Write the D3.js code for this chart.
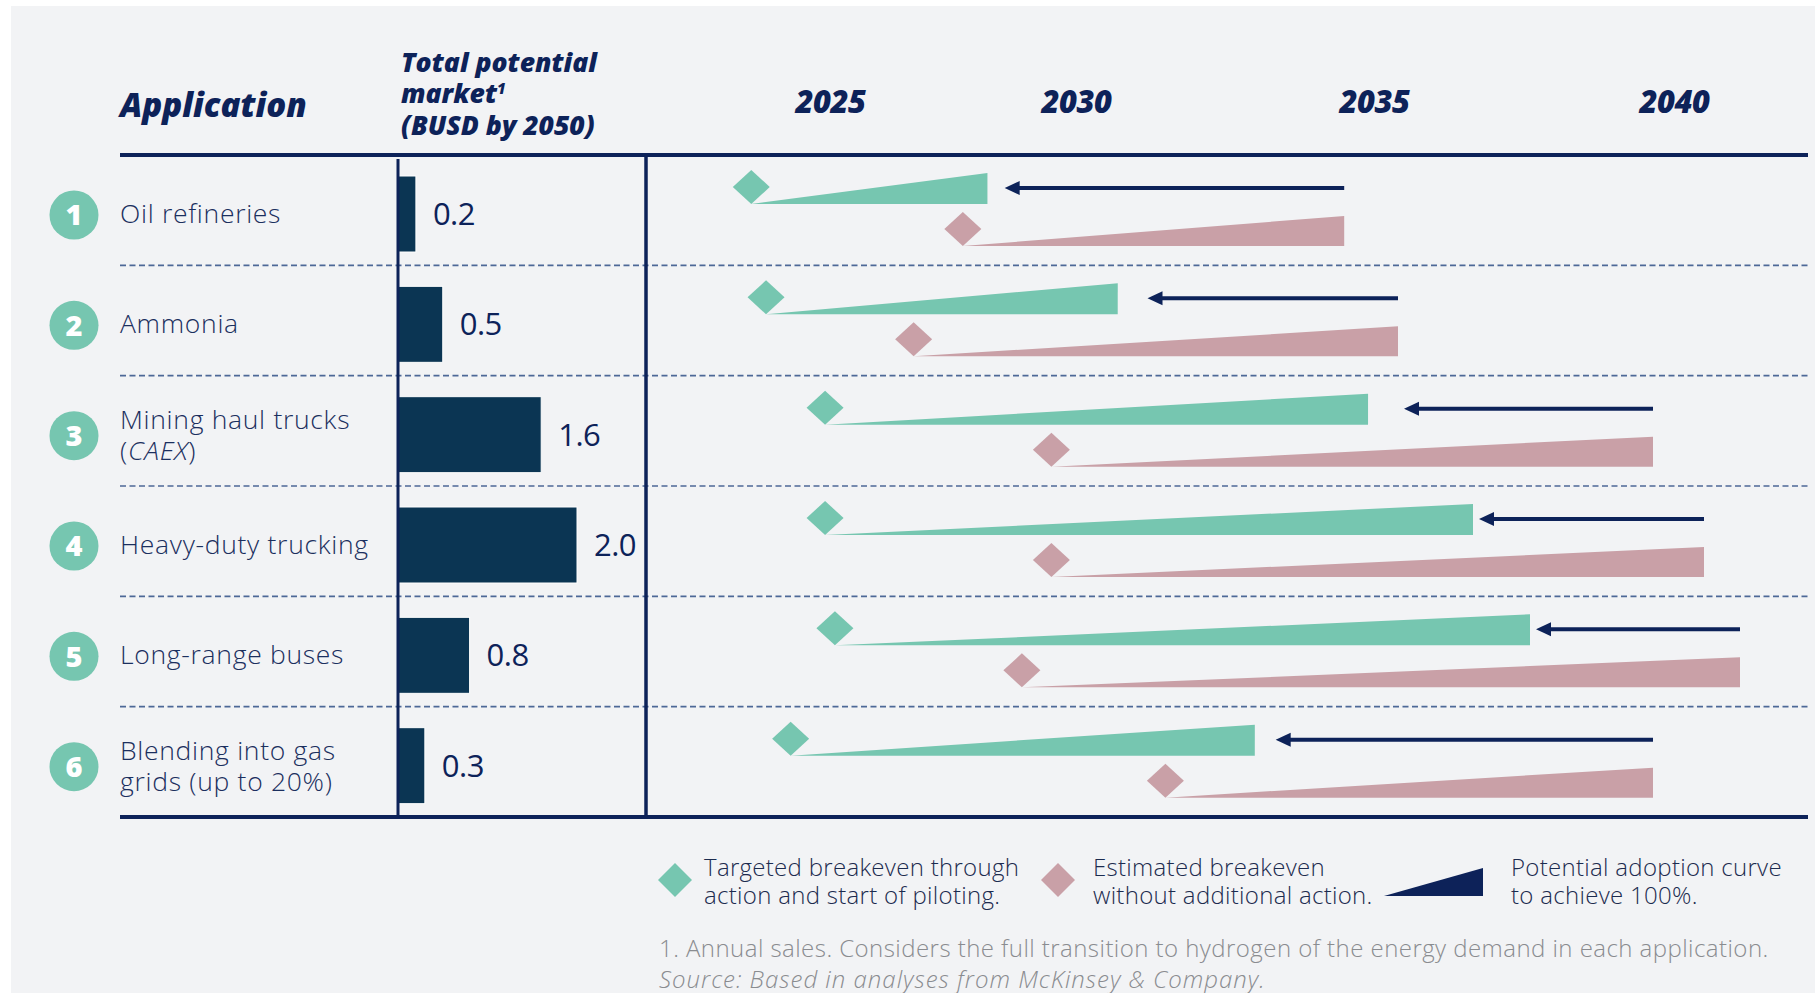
<!DOCTYPE html>
<html>
<head>
<meta charset="utf-8">
<script src="https://cdn.jsdelivr.net/npm/d3@7"></script>
<style>
  body { margin: 0; background: #ffffff; }
  svg text { font-family: "Open Sans", sans-serif; }
</style>
</head>
<body>
<div id="chart"></div>
<script>
// one entry per application row, top to bottom
const applications = [
  ["Oil refineries"],
  ["Ammonia"],
  ["Mining haul trucks", "(CAEX)"],
  ["Heavy-duty trucking"],
  ["Long-range buses"],
  ["Blending into gas", "grids (up to 20%)"]
];
const italicTerms = ["CAEX"];

// total potential market, BUSD by 2050
const marketValues = [0.2, 0.5, 1.6, 2.0, 0.8, 0.3];

const yearTicks = [2025, 2030, 2035, 2040];

// years
const targetedBreakeven = [2023.4, 2023.7, 2024.9, 2024.9, 2025.1, 2024.2];
const targetedFull = [2028.2, 2030.7, 2034.9, 2036.65, 2037.6, 2033.0];
const estimatedBreakeven = [2027.7, 2026.7, 2029.5, 2029.5, 2028.9, 2031.5];
const estimatedFull = [2034.5, 2035.4, 2039.65, 2040.5, 2041.1, 2039.65];
const arrowTip = [2028.55, 2031.2, 2035.5, 2036.75, 2037.7, 2033.35];

const legendLabels = [
  ["Targeted breakeven through", "action and start of piloting."],
  ["Estimated breakeven", "without additional action."],
  ["Potential adoption curve", "to achieve 100%."]
];
const footnote = "1. Annual sales. Considers the full transition to hydrogen of the energy demand in each application.";
const source = "Source: Based in analyses from McKinsey & Company.";

const width = 1815, height = 993;
const navy = "#0d2259";
const green = "#76c6b0";
const pink = "#c9a0a7";
const barColor = "#0b3553";
const labelColor = "#1b2f5e";
const headFont = "800";

const svg = d3.select("#chart")
  .append("svg")
  .attr("width", width)
  .attr("height", height);

// panel
svg.append("rect")
  .attr("x", 11).attr("y", 6)
  .attr("width", width - 11).attr("height", height - 6)
  .attr("fill", "#f2f3f5");

const rowY = d3.scaleBand()
  .domain(d3.range(applications.length))
  .range([155, 817]);

const barX = d3.scaleLinear()
  .domain([0, 2])
  .range([398, 577]);

const timeX = d3.scaleLinear()
  .domain(yearTicks)
  .range([830, 1076, 1374, 1674]);

drawHeaders();
drawGrid();
drawRows();
drawBars();
drawTimeline();
drawLegend();

function drawHeaders() {
  svg.append("text")
    .attr("x", 120).attr("y", 117)
    .attr("fill", navy)
    .style("font-size", "33px")
    .style("font-weight", headFont)
    .style("font-style", "italic")
    .text("Application");

  const market = svg.append("text")
    .attr("x", 401)
    .attr("fill", navy)
    .style("font-size", "26.5px")
    .style("font-weight", headFont)
    .style("font-style", "italic");
  market.append("tspan").attr("x", 401).attr("y", 72).text("Total potential");
  market.append("tspan").attr("x", 401).attr("y", 103).text("market");
  market.append("tspan").attr("dy", -9).style("font-size", "15px").text("1");
  market.append("tspan").attr("x", 401).attr("y", 135).text("(BUSD by 2050)");

  const axis = d3.axisTop(timeX)
    .tickValues(yearTicks)
    .tickFormat(d3.format("d"))
    .tickSize(0)
    .tickPadding(0);

  const g = svg.append("g")
    .attr("transform", "translate(0,113)")
    .call(axis);
  g.select(".domain").remove();
  g.selectAll("text")
    .attr("fill", navy)
    .style("font-family", "'Open Sans', sans-serif")
    .style("font-size", "31px")
    .style("font-weight", headFont)
    .style("font-style", "italic")
    .style("letter-spacing", "-0.5px");
}

function drawGrid() {
  // dashed row separators
  svg.selectAll(".sep")
    .data(d3.range(1, applications.length))
    .enter().append("line")
    .attr("x1", 120).attr("x2", 1808)
    .attr("y1", d => rowY(d)).attr("y2", d => rowY(d))
    .attr("stroke", "#4d6897")
    .attr("stroke-width", 1.6)
    .attr("stroke-dasharray", "6,3.5");

  svg.append("line")
    .attr("x1", 120).attr("x2", 1808)
    .attr("y1", 155).attr("y2", 155)
    .attr("stroke", navy).attr("stroke-width", 4);

  svg.append("line")
    .attr("x1", 120).attr("x2", 1808)
    .attr("y1", 817).attr("y2", 817)
    .attr("stroke", navy).attr("stroke-width", 4);

  svg.append("line")
    .attr("x1", 646).attr("x2", 646)
    .attr("y1", 155).attr("y2", 817)
    .attr("stroke", navy).attr("stroke-width", 3.5);
}

function drawRows() {
  const rows = svg.selectAll(".row")
    .data(applications)
    .enter().append("g")
    .attr("transform", (d, i) => "translate(0," + rowY(i) + ")");

  rows.append("circle")
    .attr("cx", 74).attr("cy", 60).attr("r", 24.5)
    .attr("fill", green);

  rows.append("text")
    .attr("x", 74).attr("y", 60).attr("dy", "0.36em")
    .attr("text-anchor", "middle")
    .attr("fill", "#ffffff")
    .style("font-size", "29px")
    .style("font-weight", "800")
    .text((d, i) => i + 1);

  rows.each(function(lines) {
    const t = d3.select(this).append("text")
      .attr("fill", labelColor)
      .style("font-size", "26.5px")
      .style("font-weight", "300")
      .style("letter-spacing", "0.7px");
    const first = lines.length === 1 ? 68 : 53;
    lines.forEach((line, j) => {
      const span = t.append("tspan").attr("x", 120).attr("y", first + j * 31);
      const term = italicTerms.find(w => line.includes(w));
      if (!term) { span.text(line); return; }
      const parts = line.split(term);
      span.text(parts[0]);
      t.append("tspan").style("font-style", "italic").text(term);
      t.append("tspan").text(parts[1]);
    });
  });
}

function drawBars() {
  svg.selectAll(".bar")
    .data(marketValues)
    .enter().append("rect")
    .attr("x", barX(0))
    .attr("y", (d, i) => rowY(i) + 21)
    .attr("width", d => barX(d) - barX(0))
    .attr("height", 76)
    .attr("fill", barColor)
    .attr("stroke", "#ffffff")
    .attr("stroke-width", 1);

  svg.selectAll(".value")
    .data(marketValues)
    .enter().append("text")
    .attr("x", d => barX(d) + 17)
    .attr("y", (d, i) => rowY(i) + 59)
    .attr("dy", "0.36em")
    .attr("fill", navy)
    .style("font-size", "31px")
    .style("font-weight", "400")
    .style("letter-spacing", "-0.5px")
    .text(d => d.toFixed(1));

  // bar axis
  svg.append("line")
    .attr("x1", 398).attr("x2", 398)
    .attr("y1", 159).attr("y2", 817)
    .attr("stroke", navy).attr("stroke-width", 3);
}

function diamond(cx, cy, rx, ry) {
  return [[cx, cy - ry], [cx + rx, cy], [cx, cy + ry], [cx - rx, cy]].join(" ");
}

function drawTimeline() {
  const rows = d3.range(applications.length);

  // targeted adoption wedge
  svg.selectAll(".gw")
    .data(rows)
    .enter().append("polygon")
    .attr("points", i => {
      const top = rowY(i);
      return [[timeX(targetedBreakeven[i]), top + 49], [timeX(targetedFull[i]), top + 49],
              [timeX(targetedFull[i]), top + 18]].join(" ");
    })
    .attr("fill", green);

  svg.selectAll(".gd")
    .data(rows)
    .enter().append("polygon")
    .attr("points", i => diamond(timeX(targetedBreakeven[i]), rowY(i) + 32, 18.5, 17))
    .attr("fill", green);

  // estimated adoption wedge
  svg.selectAll(".pw")
    .data(rows)
    .enter().append("polygon")
    .attr("points", i => {
      const top = rowY(i);
      return [[timeX(estimatedBreakeven[i]), top + 91], [timeX(estimatedFull[i]), top + 91],
              [timeX(estimatedFull[i]), top + 61]].join(" ");
    })
    .attr("fill", pink);

  svg.selectAll(".pd")
    .data(rows)
    .enter().append("polygon")
    .attr("points", i => diamond(timeX(estimatedBreakeven[i]), rowY(i) + 74, 18.5, 17))
    .attr("fill", pink);

  // arrows from estimated to targeted
  svg.selectAll(".arrow")
    .data(rows)
    .enter().append("line")
    .attr("x1", i => timeX(estimatedFull[i]))
    .attr("x2", i => timeX(arrowTip[i]) + 12)
    .attr("y1", i => rowY(i) + 33)
    .attr("y2", i => rowY(i) + 33)
    .attr("stroke", navy)
    .attr("stroke-width", 4);

  svg.selectAll(".head")
    .data(rows)
    .enter().append("polygon")
    .attr("points", i => {
      const x = timeX(arrowTip[i]), y = rowY(i) + 33;
      return [[x, y], [x + 15, y - 7], [x + 15, y + 7]].join(" ");
    })
    .attr("fill", navy);
}

function drawLegend() {
  const baseY = 876;
  const items = [
    { x: 704, mark: g => g.append("polygon").attr("points", diamond(675, 880, 17, 17)).attr("fill", green) },
    { x: 1093, mark: g => g.append("polygon").attr("points", diamond(1058, 880, 17, 17)).attr("fill", pink) },
    { x: 1511, mark: g => g.append("polygon").attr("points", "1384,896 1483,896 1483,868").attr("fill", navy) }
  ];

  const legend = svg.append("g");
  legendLabels.forEach((lines, i) => {
    items[i].mark(legend);
    const t = legend.append("text")
      .attr("fill", "#1c2b4f")
      .style("font-size", "24px")
      .style("font-weight", "300")
      .style("letter-spacing", "0.3px");
    lines.forEach((line, j) => {
      t.append("tspan").attr("x", items[i].x).attr("y", baseY + j * 27.5).text(line);
    });
  });

  svg.append("text")
    .attr("x", 659).attr("y", 957)
    .attr("fill", "#8a8c90")
    .style("font-size", "24px")
    .style("font-weight", "300")
    .style("letter-spacing", "0.45px")
    .text(footnote);

  svg.append("text")
    .attr("x", 659).attr("y", 988)
    .attr("fill", "#8a8c90")
    .style("font-size", "24px")
    .style("font-weight", "300")
    .style("font-style", "italic")
    .style("letter-spacing", "1px")
    .text(source);
}
</script>
</body>
</html>
